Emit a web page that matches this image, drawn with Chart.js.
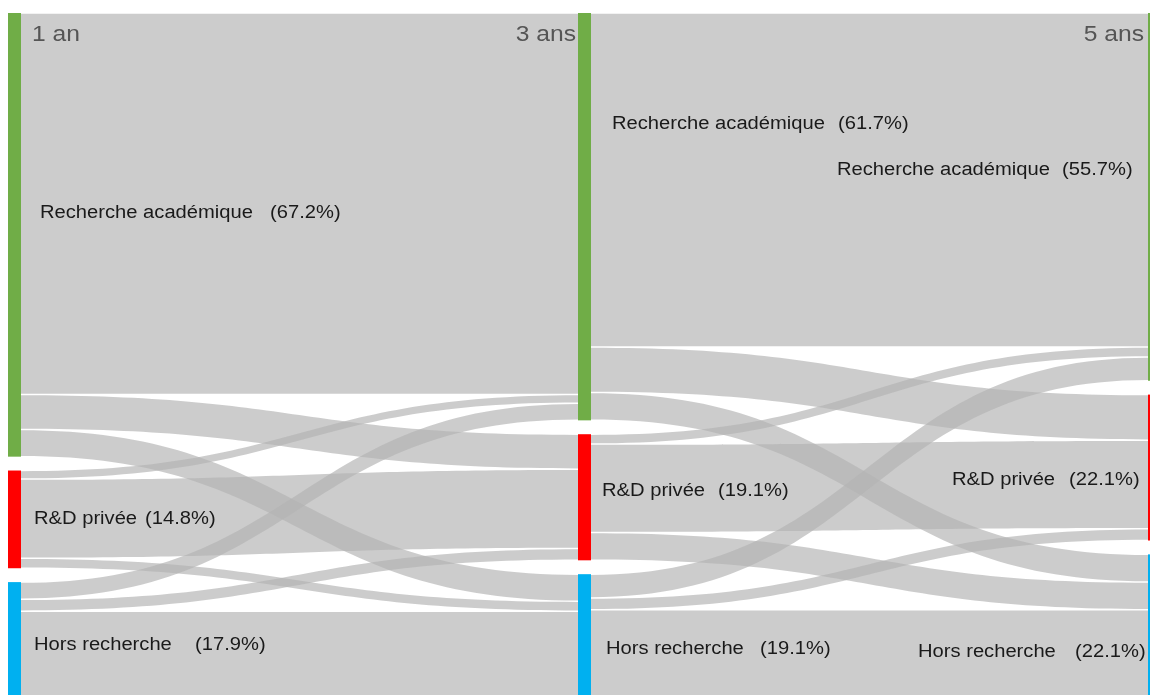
<!DOCTYPE html>
<html lang="fr">
<head>
    <meta charset="utf-8">
    <title>Trajectoires des docteurs</title>
    <script src="https://cdn.jsdelivr.net/npm/chart.js@4.4.0/dist/chart.umd.min.js"></script>
    <style>
        body { margin: 0; background: #fff; }
        canvas { display: block; }
    </style>
</head>
<body>
    <canvas id="chart" width="1150" height="695"></canvas>

    <script>
        // data
        const columns = ['1 an', '3 ans', '5 ans'];
        const nodeNames = ['Recherche académique', 'R&D privée', 'Hors recherche'];
        const shares1an = [67.2, 14.8, 17.9];
        const shares3ans = [61.7, 19.1, 19.1];
        const shares5ans = [55.7, 22.1, 22.1];
        // rows = origin, cols = destination
        const flows1to3 = [[57.8, 5.3, 4.1], [1.3, 12.0, 1.5], [2.6, 1.8, 13.5]];
        const flows3to5 = [[50.6, 6.9, 4.2], [1.5, 13.4, 4.2], [3.6, 1.8, 13.7]];

        // style
        const nodeColors = ['#70ad47', '#ff0000', '#00b0f0'];
        const linkColor = 'rgba(180,180,180,0.68)';
        const nodeGap = 2.1;      // in value units
        const nodeWidth = 13;     // px
        const textStretch = 1.12;
        // label placement per column / node: [name x, percent x, y] in px
        const labelLayout = [
            [[40, 270, 213], [34, 145, 519], [34, 195, 645]],
            [[612, 838, 124], [602, 718, 491], [606, 760, 649]],
            [[837, 1062, 170], [952, 1069, 480], [918, 1075, 652]]
        ];

        const allShares = [shares1an, shares3ans, shares5ans];
        const allFlows = [flows1to3, flows3to5];

        function nodeTops(shares) {
            let tops = [], acc = 0;
            shares.forEach((s, i) => { tops.push(acc); acc += s + nodeGap; });
            return tops;
        }

        function stretchedText(ctx, text, x, y, align) {
            ctx.save();
            ctx.translate(x, y);
            ctx.scale(textStretch, 1);
            ctx.textAlign = align || 'left';
            ctx.fillText(text, 0, 0);
            ctx.restore();
        }

        const sankeyPlugin = {
            id: 'sankey',
            beforeDatasetsDraw(chart) {
                const ctx = chart.ctx;
                const xs = chart.scales.x, ys = chart.scales.y;

                // links
                allFlows.forEach((matrix, c) => {
                    const srcOff = nodeTops(allShares[c]);
                    const dstOff = nodeTops(allShares[c + 1]);
                    const x0 = xs.getPixelForValue(c) + nodeWidth;
                    const x1 = xs.getPixelForValue(c + 1);
                    const xm = (x0 + x1) / 2;
                    // destination offsets are filled in origin order
                    let dstStart = [[], [], []];
                    for (let j = 0; j < 3; j++) {
                        for (let i = 0; i < 3; i++) {
                            dstStart[i][j] = dstOff[j];
                            dstOff[j] += matrix[i][j];
                        }
                    }
                    ctx.save();
                    ctx.fillStyle = linkColor;
                    for (let i = 0; i < 3; i++) {
                        for (let j = 0; j < 3; j++) {
                            const v = matrix[i][j];
                            const sy0 = ys.getPixelForValue(srcOff[i]) + 0.75;
                            const sy1 = ys.getPixelForValue(srcOff[i] + v) - 0.75;
                            const ty0 = ys.getPixelForValue(dstStart[i][j]) + 0.75;
                            const ty1 = ys.getPixelForValue(dstStart[i][j] + v) - 0.75;
                            srcOff[i] += v;
                            ctx.beginPath();
                            ctx.moveTo(x0, sy0);
                            ctx.bezierCurveTo(xm, sy0, xm, ty0, x1, ty0);
                            ctx.lineTo(x1, ty1);
                            ctx.bezierCurveTo(xm, ty1, xm, sy1, x0, sy1);
                            ctx.closePath();
                            ctx.fill();
                        }
                    }
                    ctx.restore();
                });

                // nodes
                allShares.forEach((shares, c) => {
                    const tops = nodeTops(shares);
                    const x = xs.getPixelForValue(c);
                    shares.forEach((s, i) => {
                        const yTop = ys.getPixelForValue(tops[i]);
                        const yBot = ys.getPixelForValue(tops[i] + s);
                        ctx.fillStyle = nodeColors[i];
                        ctx.fillRect(x, yTop, nodeWidth, yBot - yTop);
                    });
                });
            },
            afterDatasetsDraw(chart) {
                const ctx = chart.ctx;
                const xs = chart.scales.x;
                ctx.save();
                ctx.textBaseline = 'middle';

                // column titles
                ctx.font = '22px "Liberation Sans", Arial, sans-serif';
                ctx.fillStyle = '#555';
                stretchedText(ctx, columns[0], xs.getPixelForValue(0) + 24, 35, 'left');
                stretchedText(ctx, columns[1], xs.getPixelForValue(1) - 2, 35, 'right');
                stretchedText(ctx, columns[2], xs.getPixelForValue(2) - 4, 35, 'right');

                // node labels
                ctx.font = '18px "Liberation Sans", Arial, sans-serif';
                ctx.fillStyle = '#1a1a1a';
                allShares.forEach((shares, c) => {
                    shares.forEach((s, i) => {
                        const [nx, px, y] = labelLayout[c][i];
                        stretchedText(ctx, nodeNames[i], nx, y, 'left');
                        stretchedText(ctx, '(' + s.toFixed(1) + '%)', px, y, 'left');
                    });
                });
                ctx.restore();
            }
        };

        const chart = new Chart(document.getElementById('chart').getContext('2d'), {
            type: 'scatter',
            data: { datasets: [{ data: [] }] },
            options: {
                responsive: false,
                animation: false,
                layout: { padding: { left: 8, right: 2, top: 13, bottom: 0 } },
                plugins: { legend: { display: false }, tooltip: { enabled: false } },
                scales: {
                    x: { display: false, min: 0, max: 2 },
                    y: { display: false, min: 0, max: 103.3, reverse: true }
                }
            },
            plugins: [sankeyPlugin]
        });
    </script>
</body>
</html>
